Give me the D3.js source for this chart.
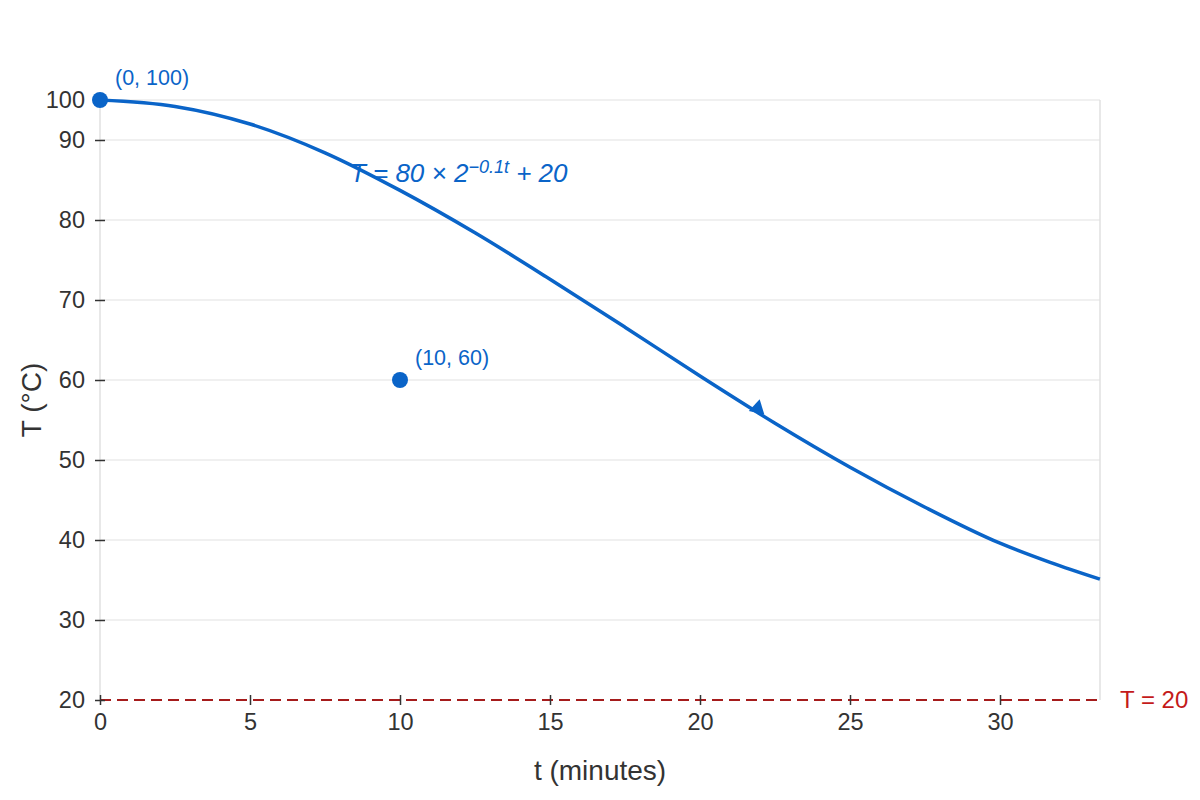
<!DOCTYPE html>
<html>
<head>
<meta charset="utf-8">
<script src="https://cdn.jsdelivr.net/npm/d3@7"></script>
<style>
  body { margin: 0; background: #fff; }
  text { font-family: "Liberation Sans", Arial, sans-serif; }
</style>
</head>
<body>
<div id="chart"></div>
<script>
// cooling curve, values (T in °C, t in minutes)
const curveT = [0, 2.5, 5, 7.5, 10, 12.5, 15, 17.5, 20, 22.5, 25, 27.5, 30, 31.67, 33.33];
const curveTemp = [95, 94.2, 92.0, 88.4, 83.7, 78.4, 72.6, 66.6, 60.5, 54.6, 49.1, 44.1, 39.6, 37.2, 35.1];

const pointT = [0, 10];
const pointTemp = [100, 60];
const pointLabels = ["(0, 100)", "(10, 60)"];

const xTicks = [0, 5, 10, 15, 20, 25, 30];
const yTicks = [20, 30, 40, 50, 60, 70, 80, 90, 100];

const asymptote = 20;
const arrowAt = [21.92, 55.9];

const blue = "#0a64c8";
const red = "#a51c1c";

const width = 1200, height = 800;
const margin = { top: 100, right: 100, bottom: 100, left: 100 };

const svg = d3.select("#chart")
    .append("svg")
    .attr("width", width)
    .attr("height", height);

const xScale = d3.scaleLinear()
    .domain([0, 33.333])
    .range([margin.left, width - margin.right]);

const yScale = d3.scaleLinear()
    .domain([20, 95])
    .range([height - margin.bottom, margin.top])
    .clamp(true);

// frame + grid
svg.append("g")
    .attr("class", "grid")
    .selectAll("line")
    .data(yTicks.slice(1))
    .enter()
    .append("line")
    .attr("x1", xScale(0))
    .attr("x2", xScale(33.333))
    .attr("y1", d => yScale(d))
    .attr("y2", d => yScale(d))
    .attr("stroke", "#ebebeb")
    .attr("stroke-width", 1.5);

svg.append("g")
    .selectAll("line")
    .data([0, 33.333])
    .enter()
    .append("line")
    .attr("x1", d => xScale(d))
    .attr("x2", d => xScale(d))
    .attr("y1", yScale(95))
    .attr("y2", yScale(20))
    .attr("stroke", "#e0e0e0")
    .attr("stroke-width", 1.5);

// asymptote
svg.append("line")
    .attr("x1", xScale(0))
    .attr("x2", xScale(33.333))
    .attr("y1", yScale(asymptote))
    .attr("y2", yScale(asymptote))
    .attr("stroke", red)
    .attr("stroke-width", 2)
    .attr("stroke-dasharray", "11,6");

svg.append("text")
    .attr("x", xScale(33.333) + 20)
    .attr("y", yScale(asymptote))
    .attr("dy", "0.35em")
    .attr("fill", "#c41a1a")
    .attr("font-size", "24px")
    .text("T = 20");

// axes
const yAxis = svg.append("g")
    .attr("transform", "translate(" + margin.left + ",0)")
    .call(d3.axisLeft(yScale).tickValues(yTicks).tickSize(5).tickPadding(10));

yAxis.select(".domain").remove();
yAxis.selectAll(".tick line").attr("x1", -5).attr("x2", 5).attr("stroke", "#333").attr("stroke-width", 1.5);
yAxis.selectAll(".tick text").attr("font-size", "23.5px").attr("fill", "#333").attr("font-family", "Liberation Sans, Arial, sans-serif");

const xAxis = svg.append("g")
    .attr("transform", "translate(0," + yScale(20) + ")")
    .call(d3.axisBottom(xScale).tickValues(xTicks).tickSize(5).tickPadding(8));

xAxis.select(".domain").remove();
xAxis.selectAll(".tick line").attr("y1", -5).attr("y2", 5).attr("stroke", "#333").attr("stroke-width", 1.5);
xAxis.selectAll(".tick text").attr("font-size", "23.5px").attr("fill", "#333").attr("font-family", "Liberation Sans, Arial, sans-serif");

svg.append("text")
    .attr("x", (xScale(0) + xScale(33.333)) / 2)
    .attr("y", 780)
    .attr("text-anchor", "middle")
    .attr("font-size", "28px")
    .attr("fill", "#333")
    .text("t (minutes)");

svg.append("text")
    .attr("transform", "translate(41," + yScale(57.5) + ") rotate(-90)")
    .attr("text-anchor", "middle")
    .attr("font-size", "28px")
    .attr("fill", "#333")
    .text("T (°C)");

// curve
const line = d3.line()
    .x((d, i) => xScale(curveT[i]))
    .y(d => yScale(d))
    .curve(d3.curveMonotoneX);

svg.append("path")
    .datum(curveTemp)
    .attr("fill", "none")
    .attr("stroke", blue)
    .attr("stroke-width", 3.5)
    .attr("d", line);

// arrowhead on the curve
svg.append("path")
    .attr("d", d3.symbol().type(d3.symbolTriangle).size(110))
    .attr("transform", "translate(" + xScale(arrowAt[0]) + "," + (yScale(arrowAt[1]) - 4.5) + ") rotate(13)")
    .attr("fill", blue);

// equation label
const eq = svg.append("text")
    .attr("x", xScale(8.33))
    .attr("y", yScale(84.8))
    .attr("font-size", "26px")
    .attr("font-style", "italic")
    .attr("fill", blue);

eq.append("tspan").text("T = 80 × 2");
eq.append("tspan").attr("dy", "-9").attr("font-size", "18px").text("−0.1t");
eq.append("tspan").attr("dy", "9").text(" + 20");

// points
svg.append("g")
    .selectAll("circle")
    .data(pointTemp)
    .enter()
    .append("circle")
    .attr("cx", (d, i) => xScale(pointT[i]))
    .attr("cy", d => yScale(d))
    .attr("r", 8)
    .attr("fill", blue);

svg.append("g")
    .selectAll("text")
    .data(pointLabels)
    .enter()
    .append("text")
    .attr("x", (d, i) => xScale(pointT[i]) + 15)
    .attr("y", (d, i) => yScale(pointTemp[i]) - 15)
    .attr("font-size", "21.5px")
    .attr("fill", blue)
    .text(d => d);
</script>
</body>
</html>
